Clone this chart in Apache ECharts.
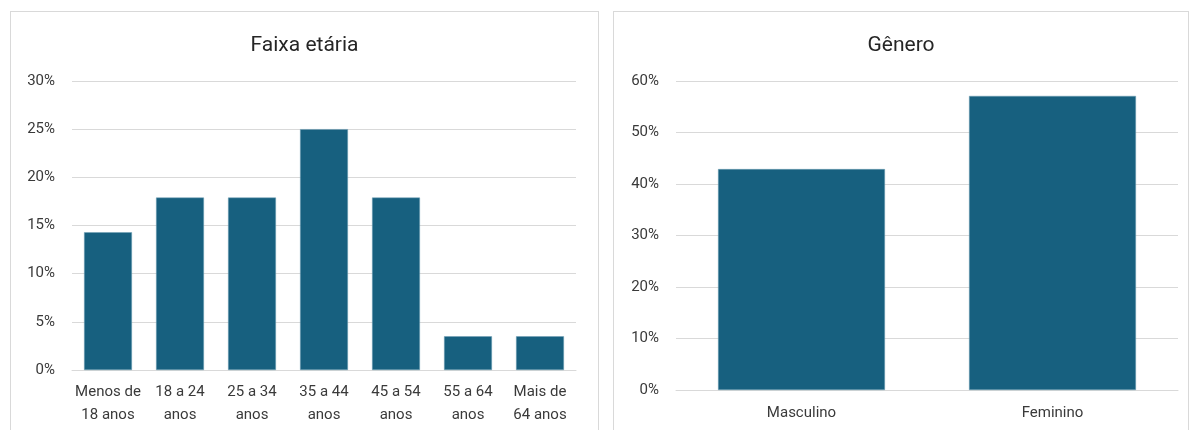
<!DOCTYPE html>
<html>
<head>
<meta charset="utf-8">
<script src="https://cdn.jsdelivr.net/npm/echarts@6/dist/echarts.min.js"></script>
<style>
  html, body { margin: 0; padding: 0; width: 1200px; height: 430px; overflow: hidden; background: #fff; }
  .panel { position: absolute; top: 11px; height: 430px; border: 1px solid #d9d9d9; box-sizing: border-box; background: #fff; }
  #p1 { left: 10px; width: 589px; }
  #p2 { left: 613px; width: 576px; }
  .chart { width: 100%; height: 100%; }
</style>
</head>
<body>
<div class="panel" id="p1"><div class="chart" id="c1"></div></div>
<div class="panel" id="p2"><div class="chart" id="c2"></div></div>
<script>
const ageTitle = 'Faixa etária';
const ageCategories = ['Menos de\n18 anos', '18 a 24\nanos', '25 a 34\nanos', '35 a 44\nanos', '45 a 54\nanos', '55 a 64\nanos', 'Mais de\n64 anos'];
const ageValues = [14.3, 17.9, 17.9, 25.0, 17.9, 3.5, 3.5];
const ageTicks = { min: 0, max: 30, interval: 5 };

const genderTitle = 'Gênero';
const genderCategories = ['Masculino', 'Feminino'];
const genderValues = [42.9, 57.1];
const genderTicks = { min: 0, max: 60, interval: 10 };

const FONT = 'Roboto';
const BAR = '#17607f';
const GRID = '#d9d9d9';
const LABEL = '#3a3a3a';

function makeOption(title, cats, vals, ticks, grid, xMargin) {
  return {
    animation: false,
    title: {
      text: title, left: 'center', top: 18,
      textStyle: { fontFamily: FONT, fontSize: 21, fontWeight: 'normal', color: '#262626' }
    },
    grid: grid,
    xAxis: {
      type: 'category', data: cats,
      axisTick: { show: false },
      axisLine: { lineStyle: { color: GRID, width: 1 } },
      axisLabel: { color: LABEL, fontFamily: FONT, fontSize: 15, lineHeight: 23, margin: xMargin, interval: 0 }
    },
    yAxis: {
      type: 'value', min: ticks.min, max: ticks.max, interval: ticks.interval,
      axisLine: { show: false }, axisTick: { show: false },
      splitLine: { lineStyle: { color: GRID, width: 1 } },
      axisLabel: { color: LABEL, fontFamily: FONT, fontSize: 15, margin: 17, formatter: '{value}%' }
    },
    series: [{
      type: 'bar', data: vals, barCategoryGap: '33.5%',
      itemStyle: { color: BAR, borderColor: '#6f9fb5', borderWidth: 0.5 }
    }]
  };
}

const c1 = echarts.init(document.getElementById('c1'));
c1.setOption(makeOption(ageTitle, ageCategories, ageValues, ageTicks,
  { left: 61, right: 22, top: 69, bottom: 70 }, 11));

const c2 = echarts.init(document.getElementById('c2'));
c2.setOption(makeOption(genderTitle, genderCategories, genderValues, genderTicks,
  { left: 62, right: 10, top: 69, bottom: 50 }, 12));
</script>
</body>
</html>
